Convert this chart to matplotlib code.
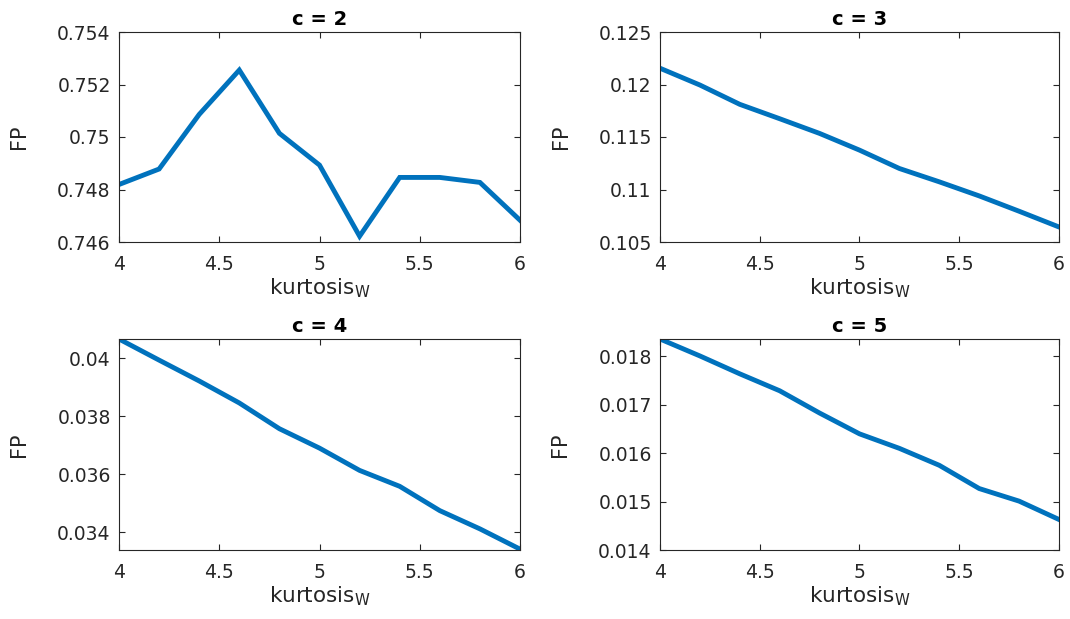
import numpy as np
import matplotlib
matplotlib.use("Agg")
import matplotlib.pyplot as plt

# FP against kurtosis_W for c = 2..5
kurtosis = [4.0, 4.2, 4.4, 4.6, 4.8, 5.0, 5.2, 5.4, 5.6, 5.8, 6.0]

fp_c2 = [0.74819, 0.74878, 0.75086, 0.75255, 0.75014, 0.74893,
         0.74622, 0.74846, 0.74846, 0.74827, 0.74683]
fp_c3 = [0.12155, 0.11995, 0.11811, 0.11674, 0.11534, 0.11375,
         0.11200, 0.11073, 0.10939, 0.10793, 0.10643]
fp_c4 = [0.04067, 0.03994, 0.03922, 0.03846, 0.03757, 0.03690,
         0.03613, 0.03558, 0.03474, 0.03411, 0.03341]
fp_c5 = [0.01836, 0.01801, 0.01764, 0.01729, 0.01683, 0.01640,
         0.01610, 0.01575, 0.01527, 0.01501, 0.01463]

titles = ["c = 2", "c = 3", "c = 4", "c = 5"]
series = [fp_c2, fp_c3, fp_c4, fp_c5]
ylims = [(0.746, 0.754), (0.105, 0.125), (0.03338, 0.04067), (0.014, 0.01836)]
yticks = [[0.746, 0.748, 0.750, 0.752, 0.754],
          [0.105, 0.110, 0.115, 0.120, 0.125],
          [0.034, 0.036, 0.038, 0.040],
          [0.014, 0.015, 0.016, 0.017, 0.018]]
xticks = [4, 4.5, 5, 5.5, 6]

plt.rcParams["font.family"] = ["DejaVu Sans"]
plt.rcParams["mathtext.fontset"] = "dejavusans"

W, H = 1070, 619
fig = plt.figure(figsize=(W / 100, H / 100), dpi=100)

# axes boxes in pixels: left, top, right, bottom
boxes = [(119, 32, 520, 242), (660, 32, 1059, 242),
         (119, 339, 520, 550), (660, 339, 1059, 550)]

edge = "#262626"
for i, (l, t, r, b) in enumerate(boxes):
    ax = fig.add_axes([l / W, 1 - b / H, (r - l) / W, (b - t) / H])
    ax.plot(kurtosis, series[i], color="#0072BD", linewidth=3.5,
            solid_joinstyle="miter")
    ax.set_xlim(4, 6)
    ax.set_ylim(*ylims[i])
    ax.set_xticks(xticks)
    ax.set_xticklabels(["%g" % v for v in xticks])
    ax.set_yticks(yticks[i])
    ax.set_yticklabels(["%g" % v for v in yticks[i]])
    ax.tick_params(direction="in", length=4, width=0.8, color=edge,
                   labelsize=13.5, labelcolor=edge,
                   top=True, right=True)
    ax.tick_params(axis="x", pad=9)
    ax.tick_params(axis="y", pad=6)
    for s in ax.spines.values():
        s.set_color(edge)
        s.set_linewidth(0.8)
    ax.set_title(titles[i], fontsize=14, fontweight="bold", pad=5)
    ax.set_ylabel("FP", fontsize=15, color=edge, labelpad=20)
    ax.set_xlabel(r"kurtosis$_\mathregular{W}$", fontsize=15.5,
                  color=edge, labelpad=2)

fig.savefig("out.png", dpi=100)
